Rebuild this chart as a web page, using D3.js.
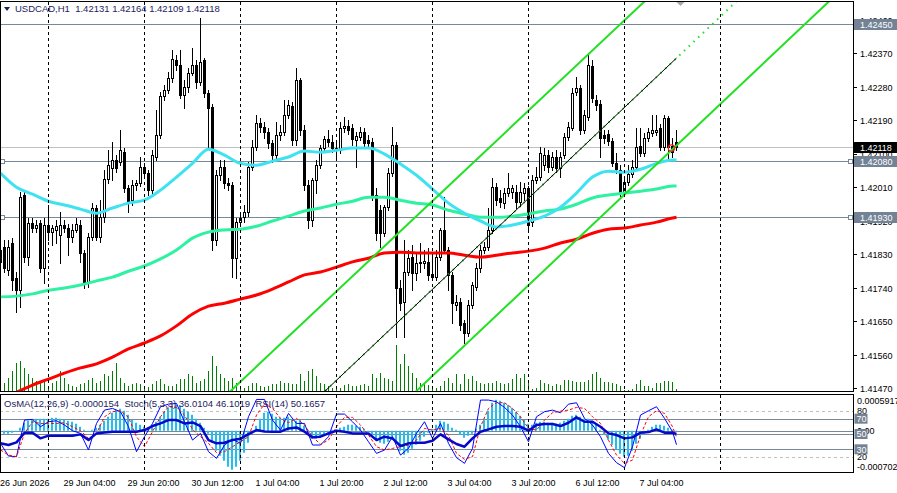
<!DOCTYPE html>
<html><head><meta charset="utf-8">
<script src="https://cdn.jsdelivr.net/npm/d3@7"></script>
<style>html,body{margin:0;padding:0;background:#fff;overflow:hidden}svg{display:block}text{font-family:"Liberation Sans",Arial,sans-serif}</style>
</head><body><svg id="c" width="897" height="493"></svg>
<script>
// ---------- DATA (USDCAD H1, bar 0 = 26 Jun 12:00, bar 169 = 7 Jul 13:00) ----------
const opens=[1.41809,1.41849,1.41787,1.41860,1.41766,1.41733,1.41989,1.41822,1.41913,1.41900,
1.41913,1.41792,1.41908,1.41889,1.41895,1.41881,1.41908,1.41900,1.41876,1.41895,
1.41908,1.41833,1.41752,1.41876,1.41954,1.41876,1.41929,1.42032,1.42061,1.42083,
1.42077,1.42104,1.42007,1.41975,1.42015,1.42021,1.42064,1.42048,1.42002,1.42091,
1.42150,1.42255,1.42271,1.42303,1.42351,1.42338,1.42257,1.42279,1.42316,1.42338,
1.42292,1.42351,1.42263,1.42225,1.41868,1.42042,1.42064,1.42021,1.42015,1.41819,
1.41916,1.41929,1.41943,1.42064,1.42118,1.42182,1.42171,1.42158,1.42128,1.42096,
1.42150,1.42158,1.42204,1.42228,1.42136,1.42298,1.42163,1.42015,1.41921,1.42029,
1.42069,1.42115,1.42139,1.42131,1.42115,1.42109,1.42169,1.42174,1.42169,1.42136,
1.42144,1.42158,1.42136,1.42131,1.41989,1.41948,1.41886,1.41956,1.42048,1.42123,
1.41739,1.41701,1.41782,1.41822,1.41779,1.41806,1.41806,1.41809,1.41776,1.41768,
1.41822,1.41895,1.41841,1.41774,1.41693,1.41701,1.41645,1.41618,1.41693,1.41741,
1.41792,1.41841,1.41849,1.41895,1.42010,1.41981,1.41967,1.41994,1.41997,1.41997,
1.41970,1.41994,1.42007,1.41916,1.42029,1.42037,1.42069,1.42096,1.42064,1.42091,
1.42061,1.42096,1.42144,1.42169,1.42265,1.42276,1.42163,1.42198,1.42335,1.42244,
1.42233,1.42150,1.42152,1.42134,1.42074,1.42056,1.41994,1.42023,1.42045,1.42064,
1.42120,1.42101,1.42142,1.42155,1.42158,1.42169,1.42118,1.42195,1.42120,1.42131];
const highs=[1.41868,1.41868,1.41868,1.41873,1.41782,1.41997,1.42002,1.41927,1.41927,1.41921,
1.41921,1.41927,1.41962,1.41908,1.41921,1.41943,1.41921,1.41911,1.41911,1.41927,
1.41921,1.41841,1.41886,1.41967,1.41962,1.41975,1.42056,1.42109,1.42131,1.42096,
1.42163,1.42115,1.42015,1.42029,1.42029,1.42091,1.42074,1.42056,1.42109,1.42217,
1.42265,1.42284,1.42319,1.42378,1.42365,1.42378,1.42298,1.42330,1.42383,1.42351,
1.42464,1.42357,1.42271,1.42233,1.42056,1.42083,1.42083,1.42034,1.42023,1.41927,
1.41943,1.41962,1.42077,1.42136,1.42204,1.42195,1.42185,1.42169,1.42136,1.42185,
1.42177,1.42244,1.42244,1.42238,1.42330,1.42303,1.42177,1.42029,1.42034,1.42083,
1.42123,1.42147,1.42163,1.42150,1.42136,1.42185,1.42198,1.42190,1.42179,1.42158,
1.42171,1.42169,1.42150,1.42142,1.42007,1.41962,1.41962,1.42061,1.42171,1.42131,
1.41760,1.41868,1.41841,1.41854,1.41835,1.41860,1.41841,1.41846,1.41827,1.41841,
1.41900,1.41983,1.41849,1.41782,1.41720,1.41712,1.41653,1.41706,1.41755,1.41806,
1.41854,1.41862,1.41954,1.42034,1.42021,1.42002,1.42007,1.42048,1.42015,1.42015,
1.42023,1.42021,1.42013,1.42042,1.42064,1.42118,1.42115,1.42109,1.42104,1.42109,
1.42104,1.42155,1.42185,1.42276,1.42306,1.42284,1.42217,1.42370,1.42351,1.42257,
1.42244,1.42163,1.42163,1.42142,1.42101,1.42069,1.42034,1.42069,1.42083,1.42169,
1.42169,1.42155,1.42169,1.42204,1.42204,1.42179,1.42204,1.42201,1.42142,1.42164];
const lows=[1.41792,1.41782,1.41774,1.41733,1.41674,1.41688,1.41809,1.41801,1.41889,1.41889,
1.41782,1.41752,1.41868,1.41854,1.41860,1.41806,1.41889,1.41827,1.41862,1.41889,
1.41809,1.41739,1.41741,1.41868,1.41868,1.41862,1.41916,1.42021,1.42029,1.42050,
1.42069,1.41997,1.41943,1.41962,1.42002,1.42013,1.42034,1.41989,1.41994,1.42083,
1.42142,1.42244,1.42263,1.42292,1.42324,1.42249,1.42222,1.42265,1.42311,1.42276,
1.42284,1.42252,1.42118,1.41841,1.41854,1.42029,1.42007,1.42002,1.41768,1.41766,
1.41905,1.41916,1.41932,1.42056,1.42109,1.42158,1.42142,1.42115,1.42077,1.42088,
1.42136,1.42150,1.42195,1.42123,1.42123,1.42150,1.42002,1.41900,1.41905,1.41994,
1.42061,1.42104,1.42120,1.42104,1.42088,1.42101,1.42158,1.42152,1.42123,1.42064,
1.42136,1.42118,1.42115,1.41975,1.41868,1.41849,1.41878,1.41948,1.42040,1.41607,
1.41680,1.41607,1.41774,1.41733,1.41760,1.41782,1.41792,1.41760,1.41760,1.41760,
1.41814,1.41833,1.41733,1.41645,1.41680,1.41626,1.41591,1.41610,1.41685,1.41733,
1.41782,1.41833,1.41841,1.41886,1.41962,1.41956,1.41954,1.41986,1.41981,1.41954,
1.41959,1.41975,1.41889,1.41905,1.42021,1.42029,1.42056,1.42050,1.42056,1.42050,
1.42037,1.42088,1.42136,1.42163,1.42257,1.42152,1.42155,1.42190,1.42238,1.42217,
1.42091,1.42128,1.42123,1.42066,1.42048,1.41986,1.41986,1.42015,1.42037,1.42056,
1.42093,1.42093,1.42134,1.42147,1.42150,1.42109,1.42109,1.42083,1.42091,1.42109];
const closes=[1.41841,1.41792,1.41849,1.41760,1.41733,1.41983,1.41822,1.41913,1.41900,1.41908,
1.41792,1.41908,1.41889,1.41900,1.41905,1.41908,1.41900,1.41876,1.41895,1.41911,
1.41833,1.41752,1.41876,1.41954,1.41876,1.41929,1.42032,1.42069,1.42083,1.42061,
1.42109,1.42007,1.41970,1.42015,1.42021,1.42064,1.42048,1.42002,1.42096,1.42150,
1.42255,1.42271,1.42303,1.42354,1.42338,1.42257,1.42279,1.42316,1.42338,1.42292,
1.42346,1.42263,1.42222,1.41868,1.42042,1.42064,1.42021,1.42015,1.41819,1.41916,
1.41927,1.41943,1.42064,1.42118,1.42182,1.42171,1.42158,1.42128,1.42096,1.42150,
1.42158,1.42204,1.42230,1.42136,1.42298,1.42163,1.42015,1.41921,1.42029,1.42069,
1.42115,1.42139,1.42131,1.42115,1.42109,1.42169,1.42174,1.42163,1.42139,1.42147,
1.42158,1.42128,1.42128,1.41989,1.41886,1.41886,1.41956,1.42048,1.42123,1.41739,
1.41698,1.41782,1.41819,1.41779,1.41806,1.41809,1.41811,1.41774,1.41768,1.41822,
1.41895,1.41841,1.41774,1.41698,1.41701,1.41639,1.41618,1.41693,1.41747,1.41792,
1.41841,1.41849,1.41895,1.42010,1.41975,1.41970,1.41994,1.42007,1.42007,1.41970,
1.41997,1.42007,1.41908,1.42029,1.42037,1.42101,1.42096,1.42064,1.42091,1.42061,
1.42091,1.42144,1.42171,1.42263,1.42276,1.42163,1.42204,1.42338,1.42249,1.42230,
1.42142,1.42142,1.42134,1.42074,1.42058,1.41994,1.42023,1.42045,1.42064,1.42118,
1.42101,1.42142,1.42158,1.42163,1.42163,1.42118,1.42195,1.42118,1.42104,1.42118];
const volumes=[1200,800,1300,2000,2800,3000,2300,1700,1300,1000,
800,1000,500,800,1000,2000,1300,700,500,400,
700,800,1100,1300,800,1000,1700,1500,2000,2800,
1300,800,500,700,800,700,300,400,700,1000,
1200,700,500,500,700,1200,1200,1700,1500,800,
1000,1200,2000,3500,2500,1700,1300,1000,1300,800,
500,300,500,800,800,500,400,500,700,700,
1000,800,800,700,700,1700,1000,2000,2200,1500,
800,700,500,300,200,300,600,700,500,500,
600,700,500,1700,1300,1800,1300,1200,1000,4600,
2700,3700,2500,1800,1300,800,700,600,500,300,
500,1000,1300,800,1700,700,1700,1200,1500,1000,
800,700,800,800,1000,800,700,800,1200,1700,
1300,1700,1000,200,300,1100,800,700,500,700,
600,1100,1100,1000,900,900,900,1100,1700,1900,
1300,900,900,800,700,500,100,100,200,700,
1100,500,500,300,800,800,1000,1000,900,200];
// moving averages sampled every 4 bars (bars 0,4,...,168) plus last bar 169
const maFast=[1.42048,1.42010,1.41991,1.41972,1.41962,1.41951,1.41940,1.41954,1.41967,1.41975,1.42002,1.42037,1.42074,1.42112,1.42096,1.42074,1.42069,1.42080,1.42091,1.42107,1.42104,1.42109,1.42115,1.42115,1.42099,1.42072,1.42042,1.42005,1.41967,1.41940,1.41919,1.41903,1.41908,1.41919,1.41932,1.41956,1.41994,1.42037,1.42053,1.42050,1.42058,1.42074,1.42083,1.42083];
const maMid=[1.41715,1.41717,1.41723,1.41733,1.41739,1.41747,1.41758,1.41768,1.41784,1.41798,1.41817,1.41841,1.41873,1.41889,1.41895,1.41897,1.41905,1.41919,1.41932,1.41946,1.41954,1.41964,1.41972,1.41983,1.41983,1.41975,1.41967,1.41962,1.41948,1.41938,1.41929,1.41929,1.41932,1.41938,1.41946,1.41951,1.41964,1.41981,1.41989,1.41994,1.41999,1.42005,1.42013,1.42013];
const maSlow=[1.41443,1.41459,1.41478,1.41494,1.41510,1.41524,1.41535,1.41553,1.41575,1.41591,1.41610,1.41637,1.41669,1.41690,1.41698,1.41709,1.41720,1.41736,1.41755,1.41774,1.41782,1.41795,1.41809,1.41819,1.41833,1.41835,1.41833,1.41833,1.41833,1.41827,1.41822,1.41827,1.41833,1.41838,1.41846,1.41860,1.41870,1.41886,1.41897,1.41900,1.41908,1.41916,1.41927,1.41929];
// OsMA(12,26,9) per bar
const osma=[-34e-6,-51e-6,-51e-6,-34e-6,-17e-6,51e-6,136e-6,170e-6,187e-6,204e-6,
204e-6,204e-6,204e-6,221e-6,221e-6,204e-6,187e-6,170e-6,153e-6,119e-6,
68e-6,17e-6,-17e-6,17e-6,51e-6,102e-6,170e-6,238e-6,306e-6,357e-6,
374e-6,340e-6,272e-6,187e-6,136e-6,102e-6,68e-6,51e-6,85e-6,153e-6,
238e-6,323e-6,391e-6,425e-6,442e-6,425e-6,374e-6,323e-6,272e-6,204e-6,
136e-6,51e-6,-51e-6,-204e-6,-340e-6,-425e-6,-510e-6,-612e-6,-663e-6,-612e-6,
-510e-6,-374e-6,-204e-6,-51e-6,85e-6,204e-6,306e-6,323e-6,289e-6,238e-6,
221e-6,221e-6,238e-6,204e-6,170e-6,187e-6,85e-6,-51e-6,-136e-6,-136e-6,
-102e-6,-68e-6,-34e-6,17e-6,17e-6,51e-6,68e-6,102e-6,102e-6,85e-6,
68e-6,34e-6,-17e-6,-85e-6,-153e-6,-204e-6,-221e-6,-187e-6,-153e-6,-170e-6,
-340e-6,-408e-6,-374e-6,-306e-6,-238e-6,-170e-6,-102e-6,-34e-6,34e-6,102e-6,
170e-6,153e-6,119e-6,51e-6,17e-6,-68e-6,-119e-6,-85e-6,-51e-6,34e-6,
102e-6,204e-6,340e-6,476e-6,527e-6,510e-6,476e-6,442e-6,391e-6,323e-6,
255e-6,187e-6,119e-6,102e-6,136e-6,153e-6,153e-6,136e-6,136e-6,119e-6,
136e-6,170e-6,204e-6,255e-6,272e-6,238e-6,204e-6,204e-6,170e-6,102e-6,
17e-6,-68e-6,-153e-6,-238e-6,-323e-6,-391e-6,-442e-6,-425e-6,-340e-6,-221e-6,
-136e-6,-51e-6,17e-6,68e-6,102e-6,102e-6,85e-6,51e-6,17e-6,-15.4e-6];
// Stochastic(5,3,3) and RSI(14) sampled every 2 bars (bars 0,2,...,168) plus last bar 169
const stochMain=[37.8,21.2,20.4,68.2,69.1,59.5,66.0,67.3,61.7,54.3,50.8,29.1,63.8,81.2,83.4,79.1,59.5,26.9,46.5,63.8,85.6,89.0,89.9,66.0,42.1,50.8,26.9,18.2,35.6,43.0,37.8,72.5,95.1,95.1,68.2,55.1,76.9,63.8,63.8,35.6,35.6,46.5,76.0,76.0,66.0,55.1,39.9,24.7,29.1,46.5,22.5,31.2,50.8,66.0,44.3,63.8,37.8,19.1,11.7,31.2,94.3,94.3,92.1,84.7,74.7,59.5,39.9,72.5,79.1,81.2,77.7,89.0,90.8,70.4,61.7,46.5,24.7,12.6,6.0,33.4,74.7,80.4,85.6,70.4,53.0,36.0104];
const stochSignal=[29.1,22.5,20.4,50.8,66.0,63.8,63.8,63.8,64.7,59.5,54.3,44.3,50.8,72.5,79.1,79.9,71.7,46.5,33.4,53.0,72.5,85.6,84.7,74.7,56.0,46.5,37.8,25.6,26.9,33.4,39.9,46.5,74.7,89.0,83.4,70.4,64.7,70.4,61.7,46.5,36.5,42.1,59.5,71.7,71.7,61.7,48.6,33.4,29.1,31.2,33.4,35.6,42.1,57.3,55.1,57.3,48.6,24.7,16.9,20.4,59.5,83.4,90.8,90.8,83.4,72.5,57.3,55.1,68.2,77.7,79.9,81.2,84.7,83.4,72.5,63.8,42.1,22.5,11.7,16.0,48.6,72.5,80.4,76.9,59.5,46.1019];
const rsi=[37.8,35.6,39.1,51.7,51.7,44.3,47.8,47.8,47.8,47.8,49.5,42.1,50.8,52.1,53.0,53.0,53.0,53.0,55.1,60.4,63.8,68.2,68.2,63.8,65.1,60.4,42.1,37.8,38.6,42.1,43.8,49.9,55.1,53.4,53.0,53.0,57.3,58.6,53.0,45.6,46.5,50.8,54.3,53.0,50.8,50.8,50.8,42.1,46.5,44.3,34.3,37.8,38.6,38.6,41.2,49.5,43.0,36.9,33.4,44.3,53.0,56.0,59.5,60.4,60.4,59.5,54.3,61.7,63.0,63.0,60.4,64.7,71.7,66.0,66.0,59.5,50.8,48.6,44.3,45.6,51.7,52.5,56.0,51.7,51.7,50.1657];
// axes
const priceTicks=[1.41470,1.41560,1.41650,1.41740,1.41830,1.41920,1.42010,1.42100,1.42190,1.42280,1.42370,1.42460];
const timeTickBars=[0,16,32,48,64,80,96,112,128,144,160];
const timeTickLabels=["26 Jun 2026","29 Jun 04:00","29 Jun 20:00","30 Jun 12:00","1 Jul 04:00","1 Jul 20:00","2 Jul 12:00","3 Jul 04:00","3 Jul 20:00","6 Jul 12:00","7 Jul 04:00"];
const dayGridBars=[12,36,60,84,108,132,156,180];
const hLevels=[1.42450,1.42080,1.41930];
const hLevelMarked=[false,true,true];
const bidPrice=1.42118;
const lastBar=169;
// channel lines: two anchors [bar, price]
const chanUpper=[[60,1.41487],[150,1.42398]];
const chanLower=[[110,1.41523],[200,1.42437]];
const chanMid=[[90,1.41552],[169,1.42357]];
const chanMidEndBar=184;
const alertMark=[168,1.42115];
const title="USDCAD,H1  1.42131 1.42164 1.42109 1.42118";
const indTitle="OsMA(12,26,9) -0.0000154  Stoch(5,3,3) 36.0104 46.1019  RSI(14) 50.1657";

// ---------- DRAW ----------
const svg=d3.select('#c');
const AX=853.5, MT=1.5, MB=391.5, IT=394.5, IB=472.5;
const x=d3.scaleLinear().domain([0,169]).range([0.5,676.5]);
const y=d3.scaleLinear().domain([1.41470,1.42450]).range([388,23.5]);
const yVol=d3.scaleLinear().domain([0,5000]).range([391,341]);
const yOs=d3.scaleLinear().domain([-0.000702,0.0005917]).range([472,396]);
const yPct=d3.scaleLinear().domain([0,100]).range([472.3,395.7]);
const snap=v=>Math.round(v)+0.5;

const defs=svg.append('defs');
defs.append('clipPath').attr('id','cm').append('rect').attr('x',0).attr('y',2).attr('width',853).attr('height',389);
defs.append('clipPath').attr('id','ci').append('rect').attr('x',0).attr('y',395).attr('width',853).attr('height',77);

svg.append('rect').attr('width',897).attr('height',493).attr('fill','#fff');

const main=svg.append('g').attr('clip-path','url(#cm)');
const ind=svg.append('g').attr('clip-path','url(#ci)');

// day grid
dayGridBars.forEach(b=>{
  [[2,391],[395,472]].forEach(([a,c])=>{
    svg.append('line').attr('x1',x(b)).attr('x2',x(b)).attr('y1',a).attr('y2',c)
      .attr('stroke','#000').attr('stroke-dasharray','3,3').attr('stroke-width',1);
  });
});

// bid line
main.append('line').attr('x1',0).attr('x2',AX).attr('y1',snap(y(bidPrice))).attr('y2',snap(y(bidPrice))).attr('stroke','#c0c0c0');
// horizontal levels
hLevels.forEach((p,i)=>{
  const yy=snap(y(p));
  main.append('line').attr('x1',0).attr('x2',AX).attr('y1',yy).attr('y2',yy).attr('stroke','#778899');
  if(hLevelMarked[i]){
    [0.5,848.5].forEach(sx=>main.append('rect').attr('x',sx).attr('y',yy-2).attr('width',4).attr('height',4).attr('fill','#fff').attr('stroke','#778899'));
  }
});

// volumes
volumes.forEach((v,i)=>{
  main.append('line').attr('x1',x(i)).attr('x2',x(i)).attr('y1',yVol(0)).attr('y2',yVol(v)).attr('stroke','#008000');
});

// candles
const cg=main.append('g');
opens.forEach((o,i)=>{
  const cx=x(i), c=closes[i];
  const yH=Math.round(y(highs[i])), yL=Math.round(y(lows[i]));
  const yO=Math.round(y(o)), yC=Math.round(y(c));
  cg.append('line').attr('x1',cx).attr('x2',cx).attr('y1',yH).attr('y2',yL+1).attr('stroke','#000');
  const top=Math.min(yO,yC), bot=Math.max(yO,yC);
  cg.append('rect').attr('x',cx-1).attr('y',top+0.5).attr('width',2).attr('height',Math.max(bot-top,1))
    .attr('fill',c>=o?'#fff':'#000').attr('stroke','#000');
});

// moving averages
const maBar=k=>k<43?4*k:lastBar;
const maLine=d3.line().x((d,k)=>x(maBar(k))).y(d=>y(d)).curve(d3.curveMonotoneX);
[[maSlow,'#ff0000'],[maMid,'#2ef2a2'],[maFast,'#3ee2f0']].forEach(([arr,col])=>{
  main.append('path').attr('d',maLine(arr)).attr('fill','none').attr('stroke',col).attr('stroke-width',3);
});

// channels
function chanPrice(ch,b){const [[b1,p1],[b2,p2]]=ch;return p1+(p2-p1)*(b-b1)/(b2-b1);}
[chanUpper,chanLower].forEach(ch=>{
  main.append('line').attr('x1',x(-20)).attr('y1',y(chanPrice(ch,-20))).attr('x2',x(260)).attr('y2',y(chanPrice(ch,260)))
    .attr('stroke','#22e022').attr('stroke-width',2);
});
main.append('line').attr('x1',x(60)).attr('y1',y(chanPrice(chanMid,60))).attr('x2',x(chanMidEndBar)).attr('y2',y(chanPrice(chanMid,chanMidEndBar)))
  .attr('stroke','#22e022').attr('stroke-width',2).attr('stroke-dasharray','1.5,5');
main.append('line').attr('x1',x(60)).attr('y1',y(chanPrice(chanMid,60))).attr('x2',x(chanMid[1][0])).attr('y2',y(chanMid[1][1]))
  .attr('stroke','#000').attr('stroke-width',1);

// alert circle
main.append('circle').attr('cx',x(alertMark[0])-1).attr('cy',y(alertMark[1])).attr('r',3.2).attr('fill','none').attr('stroke','#ff2020').attr('stroke-width',1.2);
// shift marker
svg.append('path').attr('d',`M${x(170)-4},2 L${x(170)+4},2 L${x(170)},6 Z`).attr('fill','#a8a8a8');

// ---------- indicator panel ----------
// levels
[[80,true],[20,true]].forEach(([v])=>{
  ind.append('line').attr('x1',0).attr('x2',AX).attr('y1',snap(yPct(v))).attr('y2',snap(yPct(v))).attr('stroke','#c0c0c0').attr('stroke-dasharray','3,3');
});
[70,50,30].forEach(v=>{
  ind.append('line').attr('x1',0).attr('x2',AX).attr('y1',snap(yPct(v))).attr('y2',snap(yPct(v))).attr('stroke','#778899');
});
ind.append('line').attr('x1',0).attr('x2',AX).attr('y1',snap(yOs(0))).attr('y2',snap(yOs(0))).attr('stroke','#778899');
// histogram
osma.forEach((v,i)=>{
  const a=yOs(0), b=yOs(v);
  ind.append('rect').attr('x',Math.floor(x(i))-1).attr('width',2).attr('y',Math.min(a,b)).attr('height',Math.max(Math.abs(b-a),0.5)).attr('fill','#20bff0');
});
const indBar=k=>k<85?2*k:lastBar;
const pLine=d3.line().x((d,k)=>x(indBar(k))).y(d=>yPct(d));
ind.append('path').attr('d',pLine(stochMain)).attr('fill','none').attr('stroke','#0000ff').attr('stroke-width',1);
ind.append('path').attr('d',pLine(stochSignal)).attr('fill','none').attr('stroke','#ff0000').attr('stroke-width',1).attr('stroke-dasharray','3,2');
ind.append('path').attr('d',pLine(rsi)).attr('fill','none').attr('stroke','#0808c8').attr('stroke-width',2.5).attr('stroke-linejoin','round');

// ---------- frames ----------
svg.append('rect').attr('x',0.5).attr('y',MT).attr('width',AX-0.5).attr('height',MB-MT).attr('fill','none').attr('stroke','#000');
svg.append('rect').attr('x',0.5).attr('y',IT).attr('width',AX-0.5).attr('height',IB-IT).attr('fill','none').attr('stroke','#000');

// ---------- price axis ----------
priceTicks.forEach(p=>{
  const yy=snap(y(p));
  svg.append('line').attr('x1',AX).attr('x2',AX+3.5).attr('y1',yy).attr('y2',yy).attr('stroke','#000');
  svg.append('text').attr('x',860).attr('y',yy+3.5).attr('font-size',9).attr('fill','#000').text(p.toFixed(5));
});
function priceBox(p,fill){
  const yy=snap(y(p));
  svg.append('rect').attr('x',854).attr('y',yy-5.5).attr('width',43).attr('height',11).attr('fill',fill);
  svg.append('text').attr('x',860).attr('y',yy+3.5).attr('font-size',9).attr('fill','#fff').text(p.toFixed(5));
}
hLevels.forEach(p=>priceBox(p,'#738295'));
priceBox(bidPrice,'#000');

// indicator axis labels
const indLab=(t,yy)=>svg.append('text').attr('x',857).attr('y',yy+3.2).attr('font-size',9).attr('fill','#000').text(t);
indLab('0.0005917',400.5);
indLab('80',yPct(80));
indLab('20',yPct(20));
indLab('0.00',yOs(0));
indLab('-0.000702',467);
[70,50,30].forEach(v=>{
  const yy=yPct(v);
  svg.append('rect').attr('x',854.5).attr('y',yy-5).attr('width',13).attr('height',10).attr('fill','#738295');
  svg.append('text').attr('x',856.5).attr('y',yy+3.2).attr('font-size',9).attr('fill','#fff').text(String(v));
});

// time axis
timeTickBars.forEach((b,i)=>{
  svg.append('text').attr('x',Math.max(0,x(b)-1)).attr('y',486).attr('font-size',9).attr('fill','#000').text(timeTickLabels[i]);
});

// titles
svg.append('path').attr('d','M4,7 L10,7 L7,11 Z').attr('fill','#1c1c5c');
svg.append('text').attr('x',15).attr('y',12).attr('font-size',9.5).attr('fill','#1c1c5c').style('white-space','pre').text(title);
svg.append('text').attr('x',4).attr('y',406.5).attr('font-size',9.5).attr('fill','#1c1c5c').style('white-space','pre').text(indTitle);
</script></body></html>
